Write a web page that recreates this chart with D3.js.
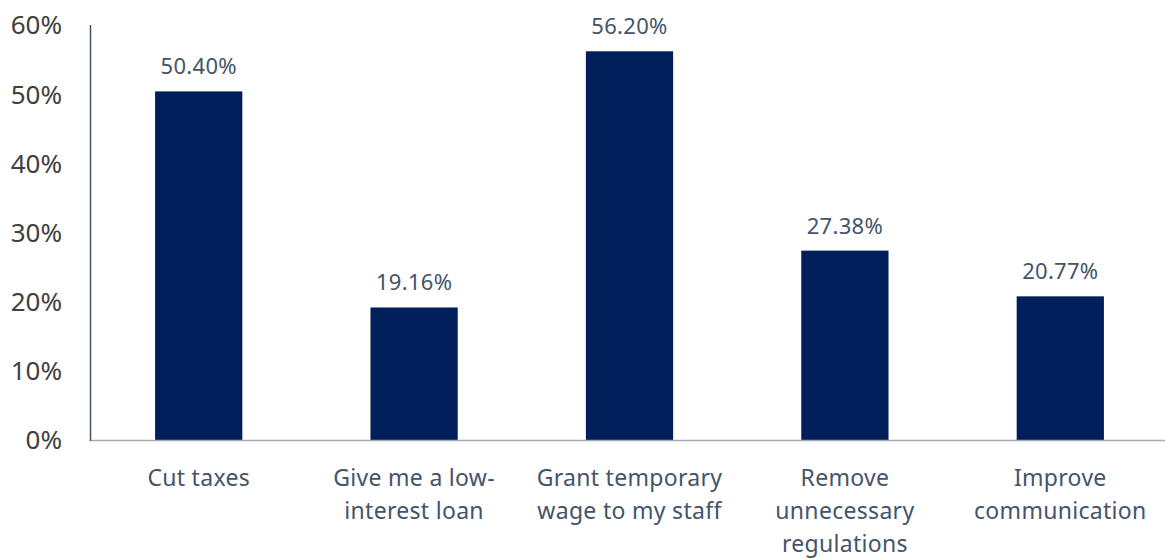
<html>
<head>
  <style>
  body {
    margin: 0;
    background: #fff;
    font-family: "Segoe UI", "Noto Sans", sans-serif;
  }
  .ytick text {
    fill: #404040;
    font-size: 26px;
  }
  .val {
    fill: #44546A;
    font-size: 22px;
    letter-spacing: 0.3px;
  }
  .cat {
    fill: #44546A;
    font-size: 23px;
    letter-spacing: 0.3px;
  }
  </style>
</head>
<body>
<div id="chart"></div>
<script src="https://d3js.org/d3.v7.min.js"></script>
<script>

// data
var categories = ["Cut taxes", "Give me a low-interest loan", "Grant temporary wage to my staff", "Remove unnecessary regulations", "Improve communication"];
var catLines = [
  ["Cut taxes"],
  ["Give me a low-", "interest loan"],
  ["Grant temporary", "wage to my staff"],
  ["Remove", "unnecessary", "regulations"],
  ["Improve", "communication"]
];
var values = [50.40, 19.16, 56.20, 27.38, 20.77];
var yTicks = [0, 10, 20, 30, 40, 50, 60];

var W = 1165, H = 558;
var m = {left: 91, right: 1168, top: 25, bottom: 440};

var svg = d3.select("#chart")
  .append("svg")
    .attr("width", W)
    .attr("height", H);

var x = d3.scaleBand()
  .domain(categories)
  .range([m.left, m.right])
  .paddingInner(0.595)
  .paddingOuter(0.2975);

var y = d3.scaleLinear()
  .domain([0, 60])
  .range([m.bottom, m.top]);

// y tick labels (no tick marks)
var yg = svg.append("g").attr("class", "ytick");
yg.selectAll("text")
  .data(yTicks)
  .enter()
  .append("text")
    .attr("x", 62)
    .attr("y", function(d) { return y(d); })
    .attr("dy", "0.36em")
    .attr("text-anchor", "end")
    .text(function(d) { return d + "%"; });

// bars
svg.selectAll("rect.bar")
  .data(values)
  .enter()
  .append("rect")
    .attr("class", "bar")
    .attr("x", function(d, i) { return x(categories[i]); })
    .attr("y", function(d) { return y(d); })
    .attr("width", x.bandwidth())
    .attr("height", function(d) { return y(0) - y(d); })
    .style("fill", "#001F5B");

// baseline
svg.append("line")
  .attr("x1", m.left).attr("x2", W)
  .attr("y1", y(0) + 0.5).attr("y2", y(0) + 0.5)
  .style("stroke", "#A3ABB8")
  .style("stroke-width", 1.5);

// y axis line
svg.append("line")
  .attr("x1", m.left - 0.5).attr("x2", m.left - 0.5)
  .attr("y1", m.top).attr("y2", y(0) + 1)
  .style("stroke", "#44546A")
  .style("stroke-width", 1.5);

// value labels
svg.selectAll("text.val")
  .data(values)
  .enter()
  .append("text")
    .attr("class", "val")
    .attr("x", function(d, i) { return x(categories[i]) + x.bandwidth() / 2; })
    .attr("y", function(d) { return y(d) - 17; })
    .attr("text-anchor", "middle")
    .text(function(d) { return d.toFixed(2) + "%"; });

// category labels
var cg = svg.selectAll("text.cat")
  .data(categories)
  .enter()
  .append("text")
    .attr("class", "cat")
    .attr("text-anchor", "middle")
    .attr("x", function(d) { return x(d) + x.bandwidth() / 2; })
    .attr("y", 486);

cg.selectAll("tspan")
  .data(function(d, i) { return catLines[i]; })
  .enter()
  .append("tspan")
    .attr("x", function() { return d3.select(this.parentNode).attr("x"); })
    .attr("dy", function(d, i) { return i === 0 ? 0 : 33; })
    .text(function(d) { return d; });

</script>
</body>
</html>
